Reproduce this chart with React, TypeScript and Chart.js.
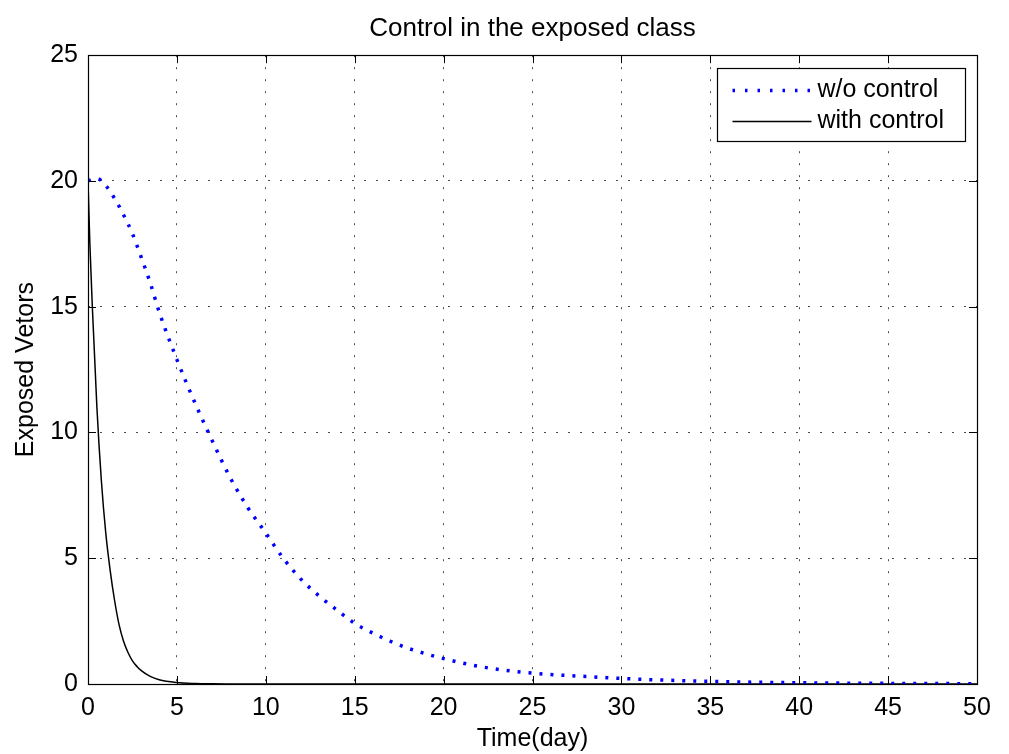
import { useEffect, useRef } from 'react';
import { Chart, registerables } from 'chart.js';

Chart.register(...registerables);

const chartTitle = 'Control in the exposed class';
const xAxisLabel = 'Time(day)';
const yAxisLabel = 'Exposed Vetors';
const xTickValues = [0, 5, 10, 15, 20, 25, 30, 35, 40, 45, 50];
const yTickValues = [0, 5, 10, 15, 20, 25];

const noControlLabel = 'w/o control';
const tNoControl = [0, 0.5, 1, 1.5, 2, 2.5, 3, 3.5, 4, 5, 6, 7, 8, 9, 10, 11, 12, 13, 14, 15, 16, 17, 18, 19, 20, 22, 24, 26, 28, 30, 33, 36, 40, 45, 50];
const eNoControl = [20, 20.1, 19.82, 19.3, 18.65, 17.9, 16.95, 15.95, 14.8, 12.9, 11.2, 9.65, 8.2, 7.0, 6.0, 4.98, 4.15, 3.5, 2.94, 2.41, 2.03, 1.7, 1.42, 1.2, 1.01, 0.7, 0.5, 0.38, 0.3, 0.22, 0.14, 0.09, 0.05, 0.025, 0.012];

const withControlLabel = 'with control';
const tWithControl = [0, 0.1, 0.25, 0.5, 0.75, 1, 1.25, 1.5, 1.75, 2, 2.25, 2.5, 2.75, 3, 3.5, 4, 5, 6, 7, 8, 10, 20, 30, 40, 50];
const eWithControl = [20, 17.6, 14.9, 11.0, 8.1, 6.0, 4.5, 3.3, 2.35, 1.7, 1.25, 0.92, 0.7, 0.53, 0.3, 0.17, 0.06, 0.02, 0.005, 0.002, 0, 0, 0, 0, 0];

const FONT = "'Liberation Sans', Arial, Helvetica, sans-serif";

const boxPlugin = {
  id: 'matlabBox',
  afterDatasetsDraw(chart: any) {
    const { ctx, chartArea: a, scales } = chart;
    const tl = 8;
    ctx.save();
    ctx.strokeStyle = '#000';
    ctx.lineWidth = 1;
    ctx.setLineDash([]);
    ctx.beginPath();
    for (const v of xTickValues) {
      const x = Math.round(scales.x.getPixelForValue(v)) + 0.5;
      ctx.moveTo(x, a.bottom);
      ctx.lineTo(x, a.bottom - tl);
      ctx.moveTo(x, a.top);
      ctx.lineTo(x, a.top + tl);
    }
    for (const v of yTickValues) {
      const y = Math.round(scales.y.getPixelForValue(v)) + 0.5;
      ctx.moveTo(a.left, y);
      ctx.lineTo(a.left + tl, y);
      ctx.moveTo(a.right, y);
      ctx.lineTo(a.right - tl, y);
    }
    ctx.stroke();
    ctx.lineWidth = 1.2;
    ctx.strokeRect(Math.round(a.left) + 0.5, Math.round(a.top) + 0.5, Math.round(a.right - a.left), Math.round(a.bottom - a.top));
    ctx.restore();
  },
  afterDraw(chart: any) {
    const { ctx, chartArea: a } = chart;
    const w = 248;
    const h = 73;
    const bx = Math.round(a.right - 12 - w) + 0.5;
    const by = Math.round(a.top + 13) + 0.5;
    ctx.save();
    ctx.fillStyle = '#fff';
    ctx.fillRect(bx, by, w, h);
    ctx.strokeStyle = '#000';
    ctx.lineWidth = 1.2;
    ctx.setLineDash([]);
    ctx.strokeRect(bx, by, w, h);
    const rows = [by + 22, by + 53];
    chart.data.datasets.forEach((ds: any, i: number) => {
      const y = rows[i];
      ctx.save();
      ctx.strokeStyle = ds.borderColor;
      ctx.lineWidth = ds.borderWidth;
      ctx.setLineDash(ds.legendDash || ds.borderDash || []);
      ctx.beginPath();
      ctx.moveTo(bx + 15, y);
      ctx.lineTo(bx + 94, y);
      ctx.stroke();
      ctx.restore();
      ctx.fillStyle = '#000';
      ctx.font = `25px ${FONT}`;
      ctx.textBaseline = 'middle';
      ctx.textAlign = 'left';
      ctx.fillText(ds.label, bx + 100, y);
    });
    ctx.restore();
  },
};

export default function App() {
  const ref = useRef<HTMLCanvasElement | null>(null);
  useEffect(() => {
    if (!ref.current) return;
    const chart = new Chart(ref.current, {
      type: 'line',
      data: {
        datasets: [
          {
            label: noControlLabel,
            data: tNoControl.map((t, i) => ({ x: t, y: eNoControl[i] })),
            borderColor: '#0000ff',
            borderWidth: 3.5,
            borderDash: [3, 8],
            legendDash: [2.5, 10],
            borderCapStyle: 'butt',
            pointRadius: 0,
            cubicInterpolationMode: 'monotone',
            fill: false,
          },
          {
            label: withControlLabel,
            data: tWithControl.map((t, i) => ({ x: t, y: eWithControl[i] })),
            borderColor: '#000000',
            borderWidth: 1.5,
            pointRadius: 0,
            cubicInterpolationMode: 'monotone',
            fill: false,
          },
        ],
      },
      options: {
        responsive: false,
        animation: false,
        layout: { padding: { left: 0, right: 32, top: 0, bottom: 0 } },
        plugins: {
          legend: { display: false },
          tooltip: { enabled: false },
          title: {
            display: true,
            fullSize: false,
            text: chartTitle,
            color: '#000',
            font: { family: FONT, size: 26, weight: 'normal', lineHeight: 1.2 },
            padding: { top: 13, bottom: 11 },
          },
        },
        scales: {
          x: {
            type: 'linear',
            min: 0,
            max: 50,
            afterFit: (s: any) => { s.height = 70; },
            afterBuildTicks: (s: any) => { s.ticks = xTickValues.map((v) => ({ value: v })); },
            ticks: { color: '#000', font: { family: FONT, size: 25 }, padding: 9, maxRotation: 0, autoSkip: false },
            grid: { color: 'rgba(0,0,0,0.7)', drawTicks: false, lineWidth: 1 },
            border: { display: false, dash: [2, 10] },
            title: { display: true, text: xAxisLabel, color: '#000', font: { family: FONT, size: 25 }, padding: { top: 0, bottom: 0 } },
          },
          y: {
            type: 'linear',
            min: 0,
            max: 25,
            afterFit: (s: any) => { s.width = 88; },
            afterBuildTicks: (s: any) => { s.ticks = yTickValues.map((v) => ({ value: v })); },
            ticks: { color: '#000', font: { family: FONT, size: 25 }, padding: 10, autoSkip: false },
            grid: { color: 'rgba(0,0,0,0.7)', drawTicks: false, lineWidth: 1 },
            border: { display: false, dash: [2, 10] },
            title: { display: true, text: yAxisLabel, color: '#000', font: { family: FONT, size: 25 }, padding: { top: 11, bottom: 11 } },
          },
        },
      } as any,
      plugins: [boxPlugin],
    });
    return () => chart.destroy();
  }, []);
  return (
    <div style={{ position: 'fixed', left: 0, top: 0, width: 1009, height: 754, background: '#fff' }}>
      <canvas ref={ref} width={1009} height={754} />
    </div>
  );
}
